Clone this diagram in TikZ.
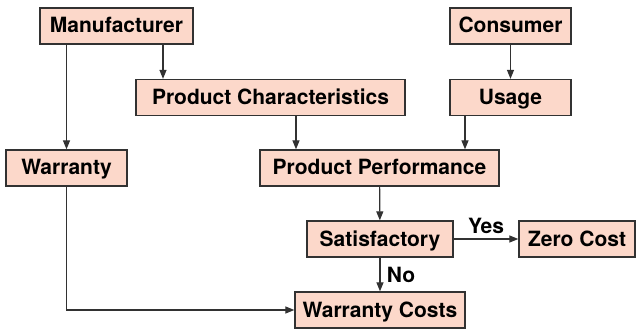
\documentclass[tikz,border=0pt]{standalone}
\usepackage{fontspec}
\setmainfont{TeX Gyre Heros}
\usetikzlibrary{arrows.meta}

\definecolor{boxfill}{RGB}{252,216,202}
\definecolor{boxline}{RGB}{50,50,50}

\tikzset{
  stage/.style={draw=boxline,line width=1.3pt,fill=boxfill,minimum height=36pt,
    inner sep=0pt,text height=15pt,text depth=1pt,
    font=\fontsize{21}{25}\selectfont\bfseries},
  flow/.style={draw=boxline,line width=1.2pt,-{Triangle[length=9pt,width=7pt]}},
  answer/.style={font=\fontsize{21}{25}\selectfont\bfseries}
}

\begin{document}
\begin{tikzpicture}[x=1pt,y=-1pt]
\useasboundingbox (0,0) rectangle (638,329);

% top row
\node[stage,minimum width=153pt] (maker) at (116.5,26) {Manufacturer};
\node[stage,minimum width=121pt] (buyer) at (510.5,26) {Consumer};

% second row
\node[stage,minimum width=269pt] (traits) at (270.5,97.5) {Product Characteristics};
\node[stage,minimum width=121pt] (usage) at (510.5,97.5) {Usage};

% third row
\node[stage,minimum width=121pt] (warranty) at (66.5,168) {Warranty};
\node[stage,minimum width=239pt] (perf) at (379.5,168) {Product Performance};

% outcome
\node[stage,minimum width=146pt] (ok) at (380,239) {Satisfactory};
\node[stage,minimum width=116pt] (zero) at (577,239) {Zero Cost};
\node[stage,minimum width=170pt] (costs) at (380,310) {Warranty Costs};

\coordinate (mkw) at (66.5,26);
\coordinate (mkt) at (163,26);
\coordinate (trp) at (296,97.5);
\coordinate (usp) at (465,97.5);

\draw[flow] (mkw) ++(0,18) -- (warranty.north);
\draw[flow] (mkt) ++(0,18) -- (mkt |- traits.north);
\draw[flow] (trp) ++(0,18) -- (trp |- perf.north);
\draw[flow] (buyer) -- (usage);
\draw[flow] (usp) ++(0,18) -- (usp |- perf.north);
\draw[flow] (perf) -- (ok);
\draw[flow] (ok) -- node[answer,above=1pt] {Yes} (zero);
\draw[flow] (ok) -- node[answer,right=3pt] {No} (costs);
\draw[flow] (warranty.south) |- (costs.west);
\end{tikzpicture}
\end{document}
